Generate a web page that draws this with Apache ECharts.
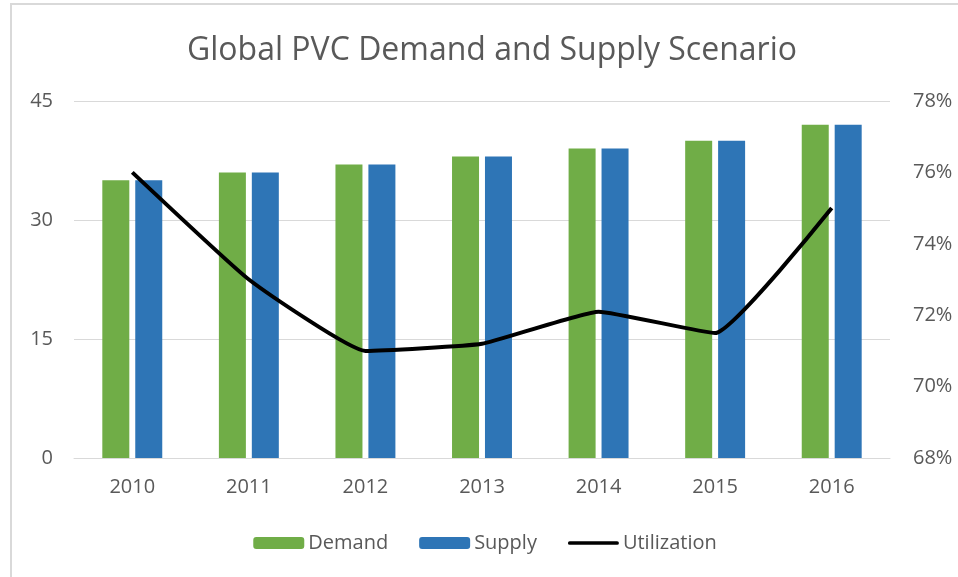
<!DOCTYPE html>
<html>
<head>
<meta charset="utf-8">
<script src="https://cdn.jsdelivr.net/npm/echarts@6/dist/echarts.min.js"></script>
<style>
    body { margin: 0; background: #fff; }
    .frame {
        position: absolute; left: 10px; top: 3px; width: 948px; height: 574px;
        border-left: 2px solid #d9d9d9; border-top: 2px solid #d9d9d9;
    }
    #chart { width: 946px; height: 572px; }
</style>
</head>
<body>
<div class="frame"><div id="chart"></div></div>
<script>
var years = ['2010', '2011', '2012', '2013', '2014', '2015', '2016'];
var demand = [35, 36, 37, 38, 39, 40, 42];
var supply = [35, 36, 37, 38, 39, 40, 42];
var utilization = [0.760, 0.730, 0.710, 0.712, 0.721, 0.715, 0.750];

var font = 'Open Sans';
var txt = '#595959';

var option = {
    animation: false,
    title: {
        text: 'Global PVC Demand and Supply Scenario',
        left: 170,
        top: 25,
        textStyle: { fontFamily: font, fontSize: 32, fontWeight: 'normal', color: txt }
    },
    grid: { left: 62, right: 68, top: 96, bottom: 119 },
    legend: {
        bottom: 19,
        left: 'center',
        itemWidth: 51,
        itemHeight: 12,
        itemGap: 31,
        textStyle: { fontFamily: font, fontSize: 20, color: txt, padding: [0, 0, 0, -1] },
        data: [
            'Demand',
            'Supply',
            { name: 'Utilization', icon: 'path://M2,0 L53,0 A2,2 0 0 1 53,4 L2,4 A2,2 0 0 1 2,0 Z' }
        ]
    },
    xAxis: {
        type: 'category',
        data: years,
        axisLine: { lineStyle: { color: '#d9d9d9' } },
        axisTick: { show: false },
        axisLabel: { fontFamily: font, fontSize: 20, color: txt, margin: 19 }
    },
    yAxis: [{
        type: 'value',
        min: 0, max: 45, interval: 15,
        axisLabel: { fontFamily: font, fontSize: 20, color: txt, margin: 21 },
        splitLine: { lineStyle: { color: '#d9d9d9' } },
        axisLine: { show: false },
        axisTick: { show: false }
    }, {
        type: 'value',
        min: 0.68, max: 0.78, interval: 0.02,
        axisLabel: {
            fontFamily: font, fontSize: 20, color: txt, margin: 23,
            formatter: function (v) { return Math.round(v * 100) + '%'; }
        },
        splitLine: { show: false },
        axisLine: { show: false },
        axisTick: { show: false }
    }],
    series: [{
        name: 'Demand',
        type: 'bar',
        data: demand,
        barWidth: 27,
        barGap: '22%',
        itemStyle: { color: '#70ad47' }
    }, {
        name: 'Supply',
        type: 'bar',
        data: supply,
        barWidth: 27,
        itemStyle: { color: '#2e75b6' }
    }, {
        name: 'Utilization',
        type: 'line',
        yAxisIndex: 1,
        data: utilization,
        smooth: 0.12,
        symbol: 'none',
        lineStyle: { color: '#000', width: 4 },
        itemStyle: { color: '#000' }
    }]
};

var myChart = echarts.init(document.getElementById('chart'));
myChart.setOption(option);
</script>
</body>
</html>
